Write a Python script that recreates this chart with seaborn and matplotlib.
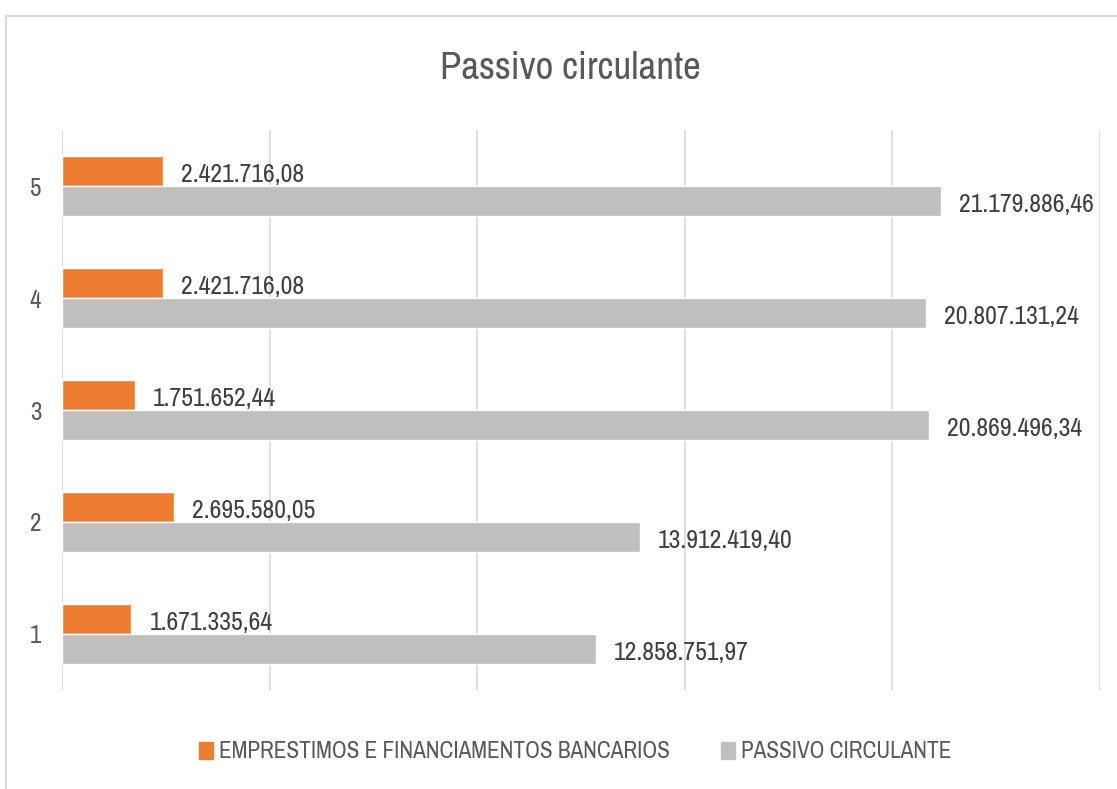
import matplotlib
matplotlib.use("Agg")
import matplotlib.pyplot as plt
import matplotlib.patches as mpatches
from matplotlib import font_manager
import seaborn as sns
import pandas as pd

categories = ["5", "4", "3", "2", "1"]
emprestimos = [2421716.08, 2421716.08, 1751652.44, 2695580.05, 1671335.64]
passivo = [21179886.46, 20807131.24, 20869496.34, 13912419.40, 12858751.97]
series_names = ["EMPRESTIMOS E FINANCIAMENTOS BANCARIOS", "PASSIVO CIRCULANTE"]
colors = ["#ED7D31", "#BFBFBF"]
title = "Passivo circulante"

sns.set_theme(style="white")
names = {f.name for f in font_manager.fontManager.ttflist}
fam = None
for cand in ["Archivo Narrow", "Liberation Sans Narrow", "Barlow Semi Condensed", "Asap Condensed"]:
    if cand in names:
        fam = cand
        break
if fam is None:
    plt.rcParams["font.family"] = ["DejaVu Sans"]
    plt.rcParams["font.stretch"] = "condensed"
else:
    plt.rcParams["font.family"] = [fam, "DejaVu Sans"]

df = pd.DataFrame({
    "cat": categories * 2,
    "serie": [series_names[0]] * 5 + [series_names[1]] * 5,
    "valor": emprestimos + passivo,
})

fig = plt.figure(figsize=(11.17, 7.89), dpi=100)
ax = fig.add_axes([0.0555, 0.1255, 0.9293, 0.7097])

sns.barplot(data=df, y="cat", x="valor", hue="serie", order=categories,
            hue_order=series_names, palette=colors, orient="h", width=0.536,
            gap=0, ax=ax, legend=False, saturation=1)

ax.set_xlim(0, 25e6)
ax.set_xticks([0, 5e6, 10e6, 15e6, 20e6, 25e6])
ax.set_xticklabels([])
ax.tick_params(axis="x", length=0)
ax.tick_params(axis="y", length=0, labelsize=18, labelcolor="#595959", pad=15)
ax.grid(axis="x", color="#D9D9D9", linewidth=1.2)
ax.set_axisbelow(True)
for s in ax.spines.values():
    s.set_visible(False)
ax.set_xlabel("")
ax.set_ylabel("")

def fmt(v):
    s = f"{v:,.2f}"
    return s.replace(",", "X").replace(".", ",").replace("X", ".")

for cont in ax.containers:
    texts = ax.bar_label(cont, labels=[fmt(b.get_width()) for b in cont], padding=13,
                         fontsize=18.5, color="#404040")
    for t in texts:
        t.xyann = (13, -2.5)

fig.text(0.511, 0.913, title, ha="center", va="center", fontsize=28, color="#595959")

handles = [mpatches.Patch(color=c, label=n) for c, n in zip(colors, series_names)]
fig.legend(handles=handles, loc="center", bbox_to_anchor=(0.515, 0.047), ncol=2,
           frameon=False, fontsize=16.7, labelcolor="#595959", handlelength=0.6,
           handleheight=0.75, handletextpad=0.25, columnspacing=2.2)

border = mpatches.Rectangle((0.0054, -0.05), 1.1, 0.0297 + 1.0, transform=fig.transFigure,
                            fill=False, edgecolor="#D9D9D9", linewidth=1.5)
fig.patches.append(border)

fig.savefig("out.png", dpi=100)
